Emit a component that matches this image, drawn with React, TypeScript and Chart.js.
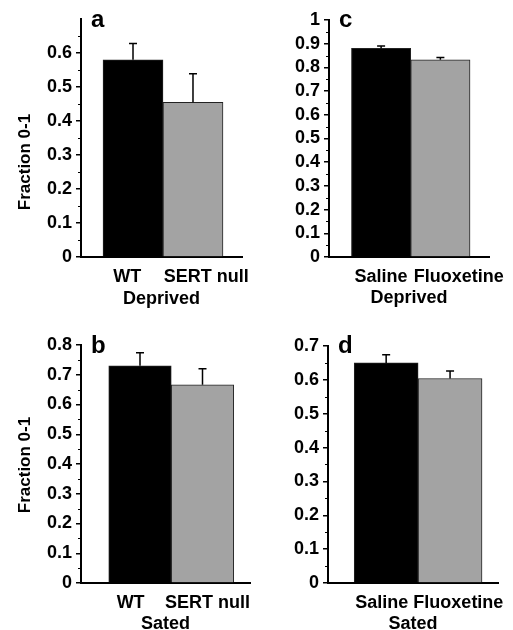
import React, { useEffect, useRef } from 'react';
import { Chart, registerables } from 'chart.js';

Chart.register(...registerables);

// ---- data ----
const genotypeCategories = ['WT', 'SERT null'];
const drugCategories = ['Saline', 'Fluoxetine'];

const deprivedGenotypeValues = [0.58, 0.455];
const deprivedGenotypeErrors = [0.048, 0.084];
const deprivedGenotypeTicks = [0, 0.1, 0.2, 0.3, 0.4, 0.5, 0.6];

const satedGenotypeValues = [0.73, 0.666];
const satedGenotypeErrors = [0.044, 0.054];
const satedGenotypeTicks = [0, 0.1, 0.2, 0.3, 0.4, 0.5, 0.6, 0.7, 0.8];

const deprivedDrugValues = [0.88, 0.832];
const deprivedDrugErrors = [0.01, 0.01];
const deprivedDrugTicks = [0, 0.1, 0.2, 0.3, 0.4, 0.5, 0.6, 0.7, 0.8, 0.9, 1];

const satedDrugValues = [0.65, 0.604];
const satedDrugErrors = [0.024, 0.022];
const satedDrugTicks = [0, 0.1, 0.2, 0.3, 0.4, 0.5, 0.6, 0.7];

const yAxisTitle = 'Fraction 0-1';
const barColors = ['#000000', '#a3a3a3'];

const FONT = "'Liberation Sans', Arial, Helvetica, sans-serif";

type Panel = {
  letter: string;
  cats: string[];
  values: number[];
  errors: number[];
  yTicks: number[];
  yMax: number;
  xTitle: string;
  showYTitle: boolean;
  left: number;
  top: number;
  width: number;
  height: number;
  axisLeft: number;
  padTop: number;
  padRight: number;
  xAxisH: number;
  xMin: number;
  xMax: number;
  labelShift: number[];
  yTitleY: number;
  letterY: number;
  xTitlePadBottom: number;
};

const panels: Panel[] = [
  {
    letter: 'a', cats: genotypeCategories, values: deprivedGenotypeValues, errors: deprivedGenotypeErrors,
    yTicks: deprivedGenotypeTicks, yMax: 0.7, xTitle: 'Deprived', showYTitle: true,
    left: 0, top: 0, width: 256, height: 310,
    axisLeft: 81, padTop: 19, padRight: 14, xAxisH: 53, xMin: 0.133, xMax: 2.817,
    labelShift: [-0.095, 0.22], yTitleY: 162, letterY: 27, xTitlePadBottom: 0,
  },
  {
    letter: 'c', cats: drugCategories, values: deprivedDrugValues, errors: deprivedDrugErrors,
    yTicks: deprivedDrugTicks, yMax: 1, xTitle: 'Deprived', showYTitle: false,
    left: 256, top: 0, width: 256, height: 310,
    axisLeft: 73, padTop: 20, padRight: 23, xAxisH: 53, xMin: 0.121, xMax: 2.82,
    labelShift: [0, 0.31], yTitleY: 0, letterY: 27, xTitlePadBottom: 1,
  },
  {
    letter: 'b', cats: genotypeCategories, values: satedGenotypeValues, errors: satedGenotypeErrors,
    yTicks: satedGenotypeTicks, yMax: 0.8, xTitle: 'Sated', showYTitle: true,
    left: 0, top: 310, width: 256, height: 320,
    axisLeft: 81, padTop: 35, padRight: 6, xAxisH: 47, xMin: 0.056, xMax: 2.76,
    labelShift: [-0.15, 0.08], yTitleY: 155, letterY: 43, xTitlePadBottom: -5,
  },
  {
    letter: 'd', cats: drugCategories, values: satedDrugValues, errors: satedDrugErrors,
    yTicks: satedDrugTicks, yMax: 0.7, xTitle: 'Sated', showYTitle: false,
    left: 256, top: 310, width: 256, height: 320,
    axisLeft: 72, padTop: 36, padRight: 14, xAxisH: 47, xMin: 0.09, xMax: 2.75,
    labelShift: [-0.07, 0.13], yTitleY: 0, letterY: 43, xTitlePadBottom: -5,
  },
];

function PanelChart({ p }: { p: Panel }) {
  const ref = useRef<HTMLCanvasElement | null>(null);

  useEffect(() => {
    if (!ref.current) return;

    const decorPlugin = {
      id: 'decor',
      afterDatasetsDraw(chart: any) {
        const ctx = chart.ctx;
        const meta = chart.getDatasetMeta(0);
        const yScale = chart.scales.y;
        ctx.save();
        ctx.strokeStyle = '#000';
        ctx.lineWidth = 1.5;
        meta.data.forEach((el: any, i: number) => {
          const v = p.values[i];
          const e = p.errors[i];
          const yTop = yScale.getPixelForValue(v + e);
          ctx.beginPath();
          ctx.moveTo(el.x, el.y);
          ctx.lineTo(el.x, yTop);
          ctx.moveTo(el.x - 4, yTop);
          ctx.lineTo(el.x + 4, yTop);
          ctx.stroke();
        });
        ctx.restore();
      },
      afterDraw(chart: any) {
        const ctx = chart.ctx;
        const yScale = chart.scales.y;
        const area = chart.chartArea;
        ctx.save();
        // minor ticks at half steps
        ctx.strokeStyle = '#000';
        ctx.lineWidth = 1;
        for (let k = 1; k < p.yTicks.length * 2 + 2; k += 2) {
          const v = k * 0.05;
          if (v > p.yMax + 1e-9) break;
          const y = Math.round(yScale.getPixelForValue(v)) + 0.5;
          ctx.beginPath();
          ctx.moveTo(area.left - 3, y);
          ctx.lineTo(area.left, y);
          ctx.stroke();
        }
        // panel letter
        ctx.fillStyle = '#000';
        ctx.font = `bold 24px ${FONT}`;
        ctx.textAlign = 'left';
        ctx.textBaseline = 'alphabetic';
        ctx.fillText(p.letter, area.left + 10, p.letterY);
        // y title
        if (p.showYTitle) {
          ctx.translate(25, p.yTitleY);
          ctx.rotate(-Math.PI / 2);
          ctx.font = `bold 17px ${FONT}`;
          ctx.textAlign = 'center';
          ctx.textBaseline = 'middle';
          ctx.fillText(yAxisTitle, 0, 0);
        }
        ctx.restore();
      },
    };

    const chart = new Chart(ref.current, {
      type: 'bar',
      data: {
        datasets: [
          {
            data: p.values.map((v, i) => ({ x: i + 1, y: v })),
            backgroundColor: barColors,
            borderColor: '#222',
            borderWidth: 1,
            barPercentage: 1,
            categoryPercentage: 1,
          } as any,
        ],
      },
      options: {
        responsive: false,
        animation: false,
        layout: { padding: { top: p.padTop, right: p.padRight, left: 0, bottom: 0 } },
        plugins: { legend: { display: false }, tooltip: { enabled: false }, title: { display: false } },
        scales: {
          x: {
            type: 'linear',
            min: p.xMin,
            max: p.xMax,
            offset: false,
            grid: { display: false, drawTicks: false },
            border: { display: true, color: '#000', width: 2 },
            afterBuildTicks: (scale: any) => {
              scale.ticks = p.cats.map((_, i) => ({ value: i + 1 + p.labelShift[i] }));
            },
            afterFit: (scale: any) => {
              scale.height = p.xAxisH;
              scale.paddingLeft = 0;
              scale.paddingRight = 0;
            },
            ticks: {
              autoSkip: false,
              maxRotation: 0,
              minRotation: 0,
              padding: 9,
              color: '#000',
              font: { family: FONT, size: 18, weight: 'bold' },
              callback: (_v: any, index: number) => p.cats[index],
            },
            title: {
              display: true,
              text: p.xTitle,
              color: '#000',
              font: { family: FONT, size: 18, weight: 'bold' },
              padding: { top: 0, bottom: p.xTitlePadBottom },
            },
          },
          y: {
            type: 'linear',
            min: 0,
            max: p.yMax,
            grid: { drawOnChartArea: false, drawTicks: true, tickLength: 5, color: '#000', lineWidth: 1.5 },
            border: { display: true, color: '#000', width: 2 },
            afterBuildTicks: (scale: any) => {
              scale.ticks = p.yTicks.map((v) => ({ value: v }));
            },
            afterFit: (scale: any) => {
              scale.width = p.axisLeft;
              scale.paddingTop = 0;
              scale.paddingBottom = 0;
            },
            ticks: {
              autoSkip: false,
              padding: 4,
              color: '#000',
              font: { family: FONT, size: 18, weight: 'bold' },
              callback: (v: any) => String(v),
            },
          },
        },
      } as any,
      plugins: [decorPlugin],
    });

    return () => chart.destroy();
  }, [p]);

  return (
    <canvas
      ref={ref}
      width={p.width}
      height={p.height}
      style={{ position: 'absolute', left: p.left, top: p.top, width: p.width, height: p.height }}
    />
  );
}

export default function App() {
  return (
    <div style={{ position: 'absolute', left: 0, top: 0, width: 513, height: 630, background: '#fff', overflow: 'hidden' }}>
      {panels.map((p) => (
        <PanelChart key={p.letter} p={p} />
      ))}
    </div>
  );
}
